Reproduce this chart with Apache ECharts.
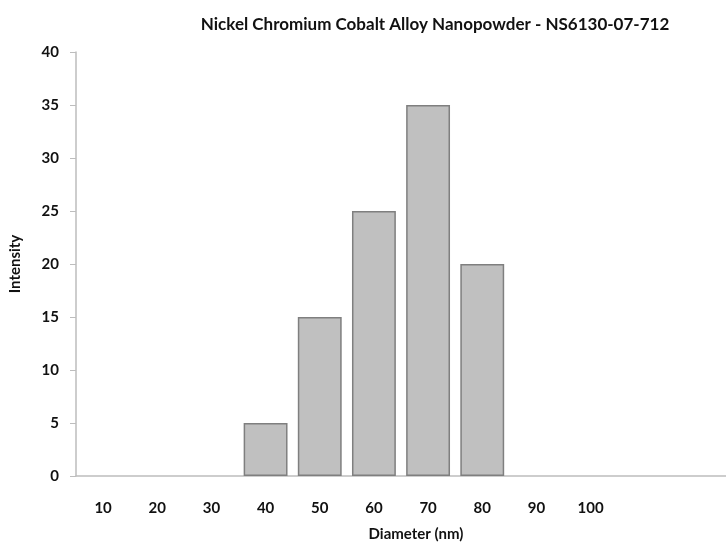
<!DOCTYPE html>
<html>
<head>
<meta charset="utf-8">
<script src="https://cdn.jsdelivr.net/npm/echarts@6/dist/echarts.min.js"></script>
<style>html,body{margin:0;padding:0;background:#fff}#c{width:726px;height:547px}</style>
</head>
<body>
<div id="c"></div>
<script>
var titleText = 'Nickel Chromium Cobalt Alloy Nanopowder - NS6130-07-712';
var categories = ['10','20','30','40','50','60','70','80','90','100','',''];
var intensity = [0,0,0,5,15,25,35,20,0,0,null,null];
var yTicks = {min:0, max:40, interval:5};
var xName = 'Diameter (nm)';
var yName = 'Intensity';

var chart = echarts.init(document.getElementById('c'));
var lbl = {fontFamily:'Lato', fontWeight:'bold', fontSize:15, color:'#111'};
var barData = intensity.map(function(v){
  return (v === 0 || v === null) ? {value:v, itemStyle:{color:'rgba(0,0,0,0)', borderWidth:0}} : {value:v};
});
chart.setOption({
  animation:false,
  backgroundColor:'#fff',
  title:{text:titleText, left:430, top:11, textAlign:'center',
    textStyle:{fontFamily:'Lato', fontWeight:'bold', fontSize:17, color:'#111'}},
  grid:{left:73, right:0, top:52, bottom:68.5, containLabel:false},
  xAxis:{type:'category', data:categories,
    axisLine:{lineStyle:{color:'#bdbdbd', width:1.5}},
    axisTick:{show:false},
    axisLabel:Object.assign({margin:25, interval:0}, lbl),
    name:xName, nameLocation:'middle', nameGap:51,
    nameTextStyle:Object.assign({padding:[0,0,0,30]}, lbl)},
  yAxis:{type:'value', min:yTicks.min, max:yTicks.max, interval:yTicks.interval,
    splitLine:{show:false},
    axisLine:{show:true, lineStyle:{color:'#bdbdbd', width:1.5}},
    axisTick:{show:true, length:6, lineStyle:{color:'#bdbdbd'}},
    axisLabel:Object.assign({margin:17}, lbl),
    name:yName, nameLocation:'middle', nameGap:53, nameRotate:90,
    nameTextStyle:lbl},
  series:[{type:'bar', data:barData, barCategoryGap:'19%',
    itemStyle:{color:'#c0c0c0', borderColor:'#7f7f7f', borderWidth:1.5}}]
});
</script>
</body>
</html>
